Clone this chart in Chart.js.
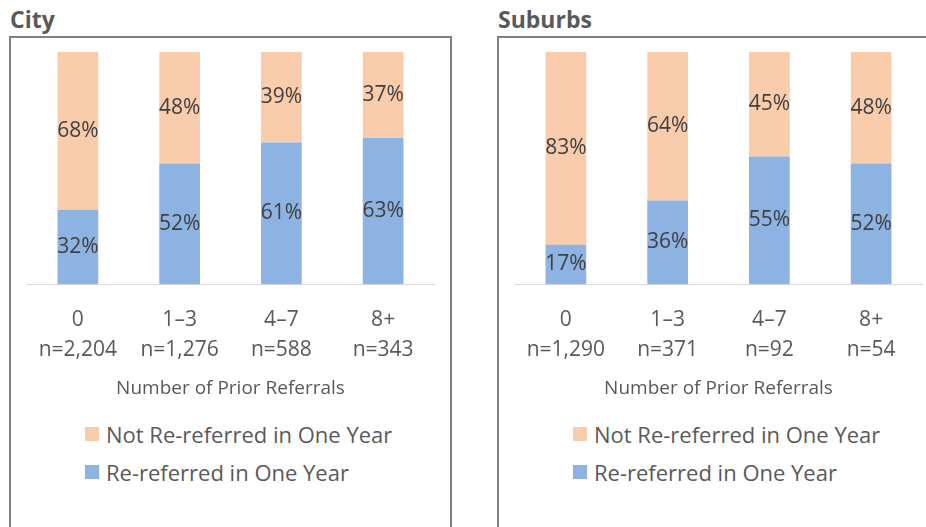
<!DOCTYPE html>
<html>
<head>
<meta charset="utf-8">
<script src="https://cdn.jsdelivr.net/npm/chart.js@4.4.1/dist/chart.umd.min.js"></script>
<style>
    body { margin: 0; background: #fff; width: 926px; height: 527px; overflow: hidden; position: relative; font-family: "Open Sans", sans-serif; }
    .panel-title { position: absolute; top: 3px; font-weight: bold; font-size: 23px; color: #595959; }
    .panel-box { position: absolute; top: 36px; width: 439px; height: 500px; border: 2px solid #808080; box-sizing: content-box; }
    .panel-box canvas { position: absolute; left: 0; top: 0; }
    .legend { position: absolute; left: 74px; top: 377px; }
    .legend-item { display: flex; align-items: center; height: 38px; font-size: 22px; color: #595959; }
    .legend-swatch { width: 14px; height: 14px; margin-right: 7px; }
</style>
</head>
<body>

<div class="panel-title" style="left:10px">City</div>
<div class="panel-box" style="left:9px" id="cityBox"><canvas id="cityChart"></canvas></div>

<div class="panel-title" style="left:498px">Suburbs</div>
<div class="panel-box" style="left:497px" id="suburbsBox"><canvas id="suburbsChart"></canvas></div>

<script>
// Chart colors (Office-style light orange / light blue)
const COLORS = {
    notReferred: '#F9CCAC',
    reReferred: '#8DB3E2',
    label: '#404040',
    text: '#595959',
    axis: '#d9d9d9'
};

// Categories
const priorReferrals = ['0', '1\u20133', '4\u20137', '8+'];
const citySampleSizes = ['n=2,204', 'n=1,276', 'n=588', 'n=343'];
const suburbsSampleSizes = ['n=1,290', 'n=371', 'n=92', 'n=54'];

// Series values (percent)
const cityReReferred = [32, 52, 61, 63];
const cityNotReReferred = [68, 48, 39, 37];
const suburbsReReferred = [17, 36, 55, 52];
const suburbsNotReReferred = [83, 64, 45, 48];

const seriesNames = ['Not Re-referred in One Year', 'Re-referred in One Year'];
const axisTitle = 'Number of Prior Referrals';

// Draws the percentage in the middle of each bar segment
const segmentLabels = {
    id: 'segmentLabels',
    afterDatasetsDraw(chart) {
        const ctx = chart.ctx;
        ctx.save();
        ctx.font = '21px "Open Sans", sans-serif';
        ctx.fillStyle = COLORS.label;
        ctx.textAlign = 'center';
        ctx.textBaseline = 'middle';
        chart.data.datasets.forEach((ds, i) => {
            const meta = chart.getDatasetMeta(i);
            meta.data.forEach((bar, j) => {
                const y = (bar.y + bar.base) / 2;
                ctx.fillText(ds.data[j] + '%', bar.x, y);
            });
        });
        ctx.restore();
    }
};

function createPanelChart(canvasId, boxId, sampleSizes, reData, notData) {
    const box = document.getElementById(boxId);
    const canvas = document.getElementById(canvasId);
    canvas.width = 439;
    canvas.height = 364;
    canvas.style.width = '439px';
    canvas.style.height = '364px';

    const chart = new Chart(canvas, {
        type: 'bar',
        data: {
            labels: priorReferrals.map((c, i) => [c, sampleSizes[i]]),
            datasets: [
                {
                    label: seriesNames[1],
                    data: reData,
                    backgroundColor: COLORS.reReferred,
                    borderWidth: 0,
                    barPercentage: 0.4,
                    categoryPercentage: 1
                },
                {
                    label: seriesNames[0],
                    data: notData,
                    backgroundColor: COLORS.notReferred,
                    borderWidth: 0,
                    barPercentage: 0.4,
                    categoryPercentage: 1
                }
            ]
        },
        options: {
            responsive: false,
            animation: false,
            devicePixelRatio: 1,
            layout: { padding: { left: 16, right: 16, top: 14, bottom: 2 } },
            plugins: {
                legend: { display: false },
                tooltip: { enabled: false }
            },
            scales: {
                x: {
                    stacked: true,
                    // invisible tick marks only used to space the labels from the axis
                    grid: { display: true, drawOnChartArea: false, drawTicks: true, tickLength: 19, color: 'rgba(0,0,0,0)' },
                    border: { display: true, color: COLORS.axis, width: 1 },
                    ticks: {
                        color: COLORS.text,
                        font: { family: '"Open Sans", sans-serif', size: 21, lineHeight: 1.43 },
                        padding: 2,
                        maxRotation: 0,
                        autoSkip: false
                    },
                    title: {
                        display: true,
                        text: axisTitle,
                        color: COLORS.text,
                        font: { family: '"Open Sans", sans-serif', size: 19, lineHeight: 1.2 },
                        padding: { top: 10, bottom: 0 }
                    }
                },
                y: {
                    stacked: true,
                    display: false,
                    min: 0,
                    max: 100
                }
            }
        },
        plugins: [segmentLabels]
    });

    // HTML legend, stacked and left-aligned
    const legend = document.createElement('div');
    legend.className = 'legend';
    [[seriesNames[0], COLORS.notReferred], [seriesNames[1], COLORS.reReferred]].forEach(([name, color]) => {
        const item = document.createElement('div');
        item.className = 'legend-item';
        item.innerHTML = '<span class="legend-swatch" style="background:' + color + '"></span><span>' + name + '</span>';
        legend.appendChild(item);
    });
    box.appendChild(legend);
    return chart;
}

createPanelChart('cityChart', 'cityBox', citySampleSizes, cityReReferred, cityNotReReferred);
createPanelChart('suburbsChart', 'suburbsBox', suburbsSampleSizes, suburbsReReferred, suburbsNotReReferred);
</script>
</body>
</html>
